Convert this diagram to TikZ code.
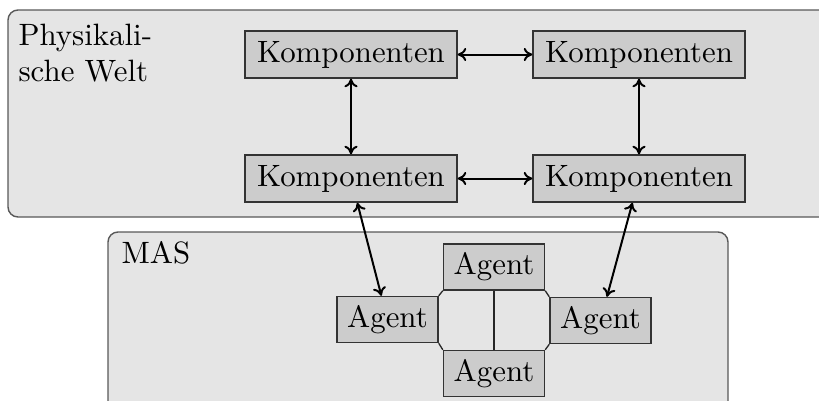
\documentclass[tikz,border=0pt]{standalone}
\usetikzlibrary{arrows.meta}
\begin{document}
\begin{tikzpicture}[x=0.35pt,y=-0.35pt,
  every node/.style={font=\fontsize{10.8}{12.5}\selectfont},
  panel/.style={draw=black!65,fill=black!10,line width=0.5pt,rounded corners=3.5pt},
  compbox/.style={draw=black!80,fill=black!20,line width=0.5pt,minimum width=74.2pt,minimum height=16.45pt,inner sep=0pt},
  agentbox/.style={draw=black!80,fill=black!20,line width=0.5pt,minimum width=35.35pt,minimum height=16.1pt,inner sep=0pt},
  link/.style={{To[length=3pt,width=4.6pt]}-{To[length=3pt,width=4.6pt]},line width=0.7pt},
  tie/.style={draw=black!85,line width=0.45pt}]
\useasboundingbox (0,0) rectangle (819,400);

% panels
\draw[panel] (8,10) rectangle (840,217);
\draw[panel] (108,232) rectangle (728,420);

\node[anchor=north west,inner sep=0pt,align=left] (world) at (18,24) {Physikali-\\sche Welt};
\node[anchor=base west,inner sep=0pt] (mas) at (121,263) {MAS};

% components of the physical world
\node[compbox] (k1) at (351,54.5) {Komponenten};
\node[compbox] (k2) at (639,54.5) {Komponenten};
\node[compbox] (k3) at (351,178.5) {Komponenten};
\node[compbox] (k4) at (639,178.5) {Komponenten};

% agents
\node[agentbox] (at) at (494,267) {Agent};
\node[agentbox] (al) at (387.5,319.5) {Agent};
\node[agentbox] (ar) at (600.5,320.5) {Agent};
\node[agentbox] (ab) at (494,373.5) {Agent};

% ties between agents
\draw[tie] (at.south west) -- (al.north east);
\draw[tie] (al.south east) -- (ab.north west);
\draw[tie] (at.south east) -- (ar.north west);
\draw[tie] (ar.south west) -- (ab.north east);
\draw[tie] (at.south) -- (ab.north);

% links
\draw[link] (k1) -- (k2);
\draw[link] (k3) -- (k4);
\draw[link] (k1) -- (k3);
\draw[link] (k2) -- (k4);
\draw[link] (k3) -- (al);
\draw[link] (k4) -- (ar);
\end{tikzpicture}
\end{document}
